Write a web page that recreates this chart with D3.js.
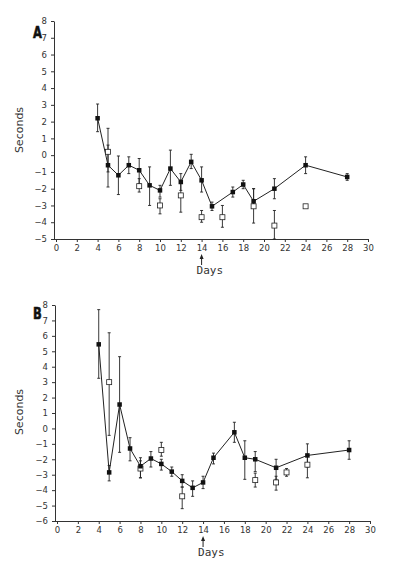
<!DOCTYPE html>
<html>
<head>
<meta charset="utf-8">
<script src="https://cdn.jsdelivr.net/npm/d3@7"></script>
<style>
  html, body { margin: 0; padding: 0; background: #fff; }
  svg { display: block; }
  .tick text { font-family: 'DejaVu Sans', sans-serif; font-size: 8.5px; fill: #333; }
  .tick line, .domain { stroke: #333; }
</style>
</head>
<body>
<svg id="chart" width="398" height="568"></svg>
<script>
// ---- Panel A : filled squares (joined by line) ----
const daysA = [4, 5, 6, 7, 8, 9, 10, 11, 12, 13, 14, 15, 17, 18, 19, 21, 24, 28];
const meanA = [2.2, -0.6, -1.2, -0.6, -0.9, -1.8, -2.1, -0.8, -1.6, -0.4, -1.5, -3.05, -2.2, -1.75, -2.75, -2.0, -0.6, -1.3];
const lowA  = [1.4, -1.9, -2.35, -1.1, -1.7, -3.0, -2.5, -1.8, -2.1, -0.8, -2.2, -3.3, -2.5, -2.0, -3.1, -2.6, -1.1, -1.5];
const highA = [3.05, 0.6, -0.05, -0.1, -0.2, -0.7, -1.8, 0.3, -1.1, 0.05, -0.7, -2.8, -1.9, -1.5, -2.0, -1.4, -0.1, -1.1];

// ---- Panel A : open squares ----
const openDaysA = [5, 8, 10, 12, 14, 16, 19, 21, 24];
const openMeanA = [0.2, -1.85, -3.0, -2.4, -3.7, -3.7, -3.05, -4.2, -3.05];
const openLowA  = [-1.0, -2.2, -3.5, -3.4, -4.0, -4.3, -4.05, -5.0, -3.05];
const openHighA = [1.6, -1.4, -2.6, -1.5, -3.3, -3.0, -2.0, -3.3, -3.05];

// ---- Panel B : filled squares (joined by line) ----
const daysB = [4, 5, 6, 7, 8, 9, 10, 11, 12, 13, 14, 15, 17, 18, 19, 21, 24, 28];
const meanB = [5.45, -2.85, 1.55, -1.3, -2.45, -1.95, -2.3, -2.8, -3.4, -3.85, -3.5, -1.9, -0.25, -1.9, -2.0, -2.55, -1.75, -1.4];
const lowB  = [3.25, -3.4, -1.55, -2.1, -3.2, -2.5, -2.7, -3.1, -3.8, -4.4, -3.9, -2.3, -0.9, -3.3, -2.8, -3.3, -2.5, -2.0];
const highB = [7.7, -2.4, 4.65, -0.6, -1.9, -1.5, -2.0, -2.5, -3.0, -3.4, -3.1, -1.6, 0.4, -0.8, -1.5, -2.0, -1.0, -0.8];

// ---- Panel B : open squares ----
const openDaysB = [5, 8, 10, 12, 19, 21, 22, 24];
const openMeanB = [3.0, -2.6, -1.4, -4.4, -3.35, -3.5, -2.85, -2.35];
const openLowB  = [-0.45, -3.2, -1.8, -5.2, -3.8, -4.0, -3.1, -3.2];
const openHighB = [6.2, -2.1, -0.9, -3.8, -2.9, -3.1, -2.6, -1.7];

// ---- axes ----
const xTicks = [0, 2, 4, 6, 8, 10, 12, 14, 16, 18, 20, 22, 24, 26, 28, 30];
const yTicksA = [-5, -4, -3, -2, -1, 0, 1, 2, 3, 4, 5, 6, 7, 8];
const yTicksB = [-6, -5, -4, -3, -2, -1, 0, 1, 2, 3, 4, 5, 6, 7, 8];

const svg = d3.select('#chart');
const ink = '#222';

const drawPanel = (p) => {
  const g = svg.append('g');
  const x = d3.scaleLinear().domain([0, 30]).range(p.xRange);
  const y = d3.scaleLinear().domain(p.yDomain).range(p.yRange);

  // axes
  g.append('g')
    .attr('transform', `translate(${p.xRange[0] - 2},0)`)
    .call(d3.axisLeft(y).tickValues(p.yTicks).tickSize(3).tickSizeOuter(0).tickFormat(d3.format('d')))
    .call((a) => a.selectAll('text').attr('dx', '-1'));
  g.append('g')
    .attr('transform', `translate(0,${p.yRange[0]})`)
    .call(d3.axisBottom(x).tickValues(xTicks).tickSize(3).tickSizeOuter(0))
    .call((a) => a.select('.domain').attr('d', `M${p.xRange[0] - 2},0.5H${p.xRange[1]}`));

  // y title
  g.append('text')
    .attr('transform', `translate(23,${p.titleY}) rotate(-90)`)
    .attr('text-anchor', 'middle')
    .style('font-family', "'DejaVu Sans', sans-serif")
    .style('font-size', '11px')
    .style('fill', '#333')
    .text('Seconds');

  // panel letter (heavy, condensed)
  g.append('text')
    .attr('transform', `translate(33,${p.letterY}) scale(0.72,1)`)
    .style('font-family', "'DejaVu Sans', sans-serif")
    .style('font-weight', 'bold')
    .style('font-size', '16px')
    .style('fill', '#111')
    .style('stroke', '#111')
    .style('stroke-width', 0.6)
    .text(p.letter);

  // arrow under day 14 + Days label
  const ax = x(14);
  const ay = p.yRange[0];
  g.append('line')
    .attr('x1', ax).attr('x2', ax)
    .attr('y1', ay + 18).attr('y2', ay + 26)
    .attr('stroke', ink).attr('stroke-width', 1);
  g.append('path')
    .attr('d', `M${ax - 2},${ay + 20}L${ax},${ay + 15}L${ax + 2},${ay + 20}Z`)
    .attr('fill', ink);
  g.append('text')
    .attr('x', ax - 5)
    .attr('y', ay + 35)
    .style('font-family', "'DejaVu Sans Mono', monospace")
    .style('font-size', '11px')
    .style('fill', '#333')
    .text('Days');

  const errBars = (days, low, high, cls) => {
    const eb = g.append('g').attr('class', cls)
      .selectAll('g').data(days.map((d, i) => ({ d, lo: low[i], hi: high[i] }))).join('g');
    eb.append('line')
      .attr('x1', (e) => x(e.d)).attr('x2', (e) => x(e.d))
      .attr('y1', (e) => y(e.hi)).attr('y2', (e) => y(e.lo))
      .attr('stroke', ink).attr('stroke-width', 0.9);
    ['hi', 'lo'].forEach((k) => {
      eb.filter((e) => e.hi !== e.lo).append('line')
        .attr('x1', (e) => x(e.d) - 1.5).attr('x2', (e) => x(e.d) + 1.5)
        .attr('y1', (e) => y(e[k])).attr('y2', (e) => y(e[k]))
        .attr('stroke', ink).attr('stroke-width', 0.9);
    });
  };

  errBars(p.openDays, p.openLow, p.openHigh, 'open-err');
  errBars(p.days, p.low, p.high, 'filled-err');

  // connecting line
  const line = d3.line().x((d) => x(d[0])).y((d) => y(d[1]));
  g.append('path')
    .datum(p.days.map((d, i) => [d, p.mean[i]]))
    .attr('d', line)
    .attr('fill', 'none')
    .attr('stroke', ink)
    .attr('stroke-width', 1);

  // open squares
  g.append('g').selectAll('rect')
    .data(p.openDays.map((d, i) => [d, p.openMean[i]]))
    .join('rect')
    .attr('x', (d) => x(d[0]) - 2.5).attr('y', (d) => y(d[1]) - 2.5)
    .attr('width', 5).attr('height', 5)
    .attr('fill', '#fff').attr('stroke', ink).attr('stroke-width', 0.8);

  // filled squares
  g.append('g').selectAll('rect')
    .data(p.days.map((d, i) => [d, p.mean[i]]))
    .join('rect')
    .attr('x', (d) => x(d[0]) - 2.25).attr('y', (d) => y(d[1]) - 2.25)
    .attr('width', 4.5).attr('height', 4.5)
    .attr('fill', '#111');
};

drawPanel({
  letter: 'A', letterY: 38, titleY: 130,
  xRange: [56, 368], yDomain: [-5, 8], yRange: [239, 21], yTicks: yTicksA,
  days: daysA, mean: meanA, low: lowA, high: highA,
  openDays: openDaysA, openMean: openMeanA, openLow: openLowA, openHigh: openHighA,
});

drawPanel({
  letter: 'B', letterY: 319, titleY: 412,
  xRange: [57, 370], yDomain: [-6, 8], yRange: [521, 305], yTicks: yTicksB,
  days: daysB, mean: meanB, low: lowB, high: highB,
  openDays: openDaysB, openMean: openMeanB, openLow: openLowB, openHigh: openHighB,
});
</script>
</body>
</html>
